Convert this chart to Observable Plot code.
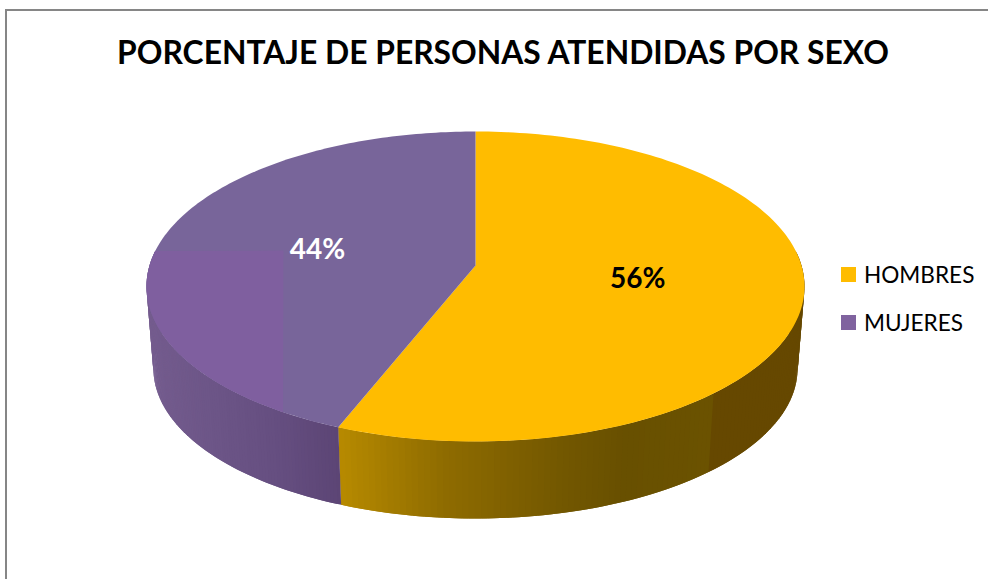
<!DOCTYPE html>
<html><head><meta charset="utf-8">
<script src="https://cdn.jsdelivr.net/npm/d3@7"></script>
<script src="https://cdn.jsdelivr.net/npm/@observablehq/plot@0.6"></script>
<style>
html,body{margin:0;padding:0;background:#fff;overflow:hidden}
#page{position:relative;width:988px;height:579px;overflow:hidden}
#frame{position:absolute;left:5px;top:9px;width:990px;height:600px;border:2px solid #868686;box-sizing:border-box}
#title{position:absolute;left:0;width:988px;top:33px;padding-left:18px;box-sizing:border-box;text-align:center;font:700 31.8px Lato,sans-serif;color:#000;white-space:nowrap}
.leg{position:absolute;left:841px;display:flex;align-items:center;font:22.6px Lato,sans-serif;color:#000;height:24px}
.leg i{display:inline-block;width:15px;height:15px;margin-right:8px}
svg{position:absolute;left:0;top:0}
</style></head><body>
<div id="page"><div id="frame"></div><div id="title">PORCENTAJE DE PERSONAS ATENDIDAS POR SEXO</div><div id="chart"></div></div>
<script>
const categories = ["HOMBRES", "MUJERES"];
const values = [56, 44];
const topColors = ["#ffbc00", "#78659a"];
const patchColor = "#7f5f9f";
const labelColors = ["#000000", "#ffffff"];
// side shading, by horizontal position in disc units
const shadeHombres = [[-0.425,"#b88b00"],[-0.1,"#8f6c00"],[0.25,"#745800"],[0.45,"#685000"],[0.725,"#6b5200"],[0.726,"#664800"],[1,"#664800"]];
const shadeMujeres = [[-1,"#745c8e"],[-0.8,"#6c5587"],[-0.6,"#654e80"],[-0.42,"#5c4575"]];

const K = -0.135, DEPTH = 0.529, BX = 0.979, BY = 0.968;
const toDisc = (t, r = 1) => {
  const u = r * Math.sin(t), v = -r * Math.cos(t), d = 1 + K * v;
  return {x: u * Math.sqrt(1 - K * K) / d, y: (v + K) / d};
};
const toBase = (t) => { const p = toDisc(t); return {x: p.x * BX, y: p.y * BY + DEPTH}; };
const total = d3.sum(values);
let acc = 0;
const slices = categories.map((c, i) => {
  const a0 = acc / total * 2 * Math.PI; acc += values[i];
  return {c, i, a0, a1: acc / total * 2 * Math.PI};
});
const shader = (stops) => d3.scaleLinear().domain(stops.map(s => s[0])).range(stops.map(s => s[1])).clamp(true);
const shades = [shader(shadeHombres), shader(shadeMujeres)];

const sidePts = [];
slices.forEach(s => {
  const from = s.i === 0 ? Math.PI / 2 - 0.1 : s.a0;
  const to = s.i === 0 ? s.a1 : 3 * Math.PI / 2 + 0.1;
  const n = 120;
  d3.range(n).forEach(j => {
    const t0 = from + (to - from) * j / n;
    // each strip reaches into the next one, which paints over it, so no seams show
    const t1 = from + (to - from) * Math.min(n, j + 2) / n;
    const col = shades[s.i](toDisc(from + (to - from) * (j + 0.5) / n).x);
    const z = s.c + String(j).padStart(4, "0");
    [toDisc(t0), toDisc(t1), toBase(t1), toBase(t0)].forEach(p => sidePts.push({...p, z, col}));
  });
});
const topPts = [];
slices.forEach(s => {
  topPts.push({...toDisc(0, 0), z: s.c, col: topColors[s.i]});
  d3.range(0, 161).forEach(j => topPts.push({...toDisc(s.a0 + (s.a1 - s.a0) * j / 160), z: s.c, col: topColors[s.i]}));
});
// lighter patch on the purple top
const cornerX = -0.584, cornerY = -0.232;
const m = slices[1];
const patchPts = d3.range(0, 241).map(j => toDisc(m.a0 + (m.a1 - m.a0) * j / 240))
  .filter(p => p.x < cornerX && p.y > cornerY);
patchPts.push({x: cornerX, y: cornerY});
const labelPts = slices.map(s => ({...toDisc((s.a0 + s.a1) / 2, 0.5), text: values[s.i] + "%", col: labelColors[s.i]}));

const line = (data, fill) => Plot.line(data, {x: "x", y: "y", z: "z", fill, stroke: "none", curve: "linear"});
const plot = Plot.plot({
  width: 988, height: 579, margin: 0,
  style: {background: "transparent", overflow: "visible"},
  x: {domain: [-1, 1], range: [146, 804], axis: null},
  y: {domain: [-1, 1], range: [131, 441], axis: null},
  marks: [
    line(sidePts, "col"),
    line(topPts, "col"),
    Plot.line(patchPts, {x: "x", y: "y", fill: patchColor, stroke: "none", curve: "linear"}),
    Plot.text(labelPts, {x: "x", y: "y", text: "text", fill: "col", fontSize: 28, fontWeight: 700, fontFamily: "Lato, sans-serif", lineAnchor: "middle", dy: -1})
  ]
});
document.getElementById("chart").append(plot);
const page = document.getElementById("page");
[262, 310].forEach((top, i) => {
  const d = document.createElement("div");
  d.className = "leg"; d.style.top = top + "px";
  const sw = document.createElement("i");
  sw.style.background = i === 0 ? "#ffbc00" : "#80639f";
  d.append(sw, categories[i]);
  page.append(d);
});
</script></body></html>
